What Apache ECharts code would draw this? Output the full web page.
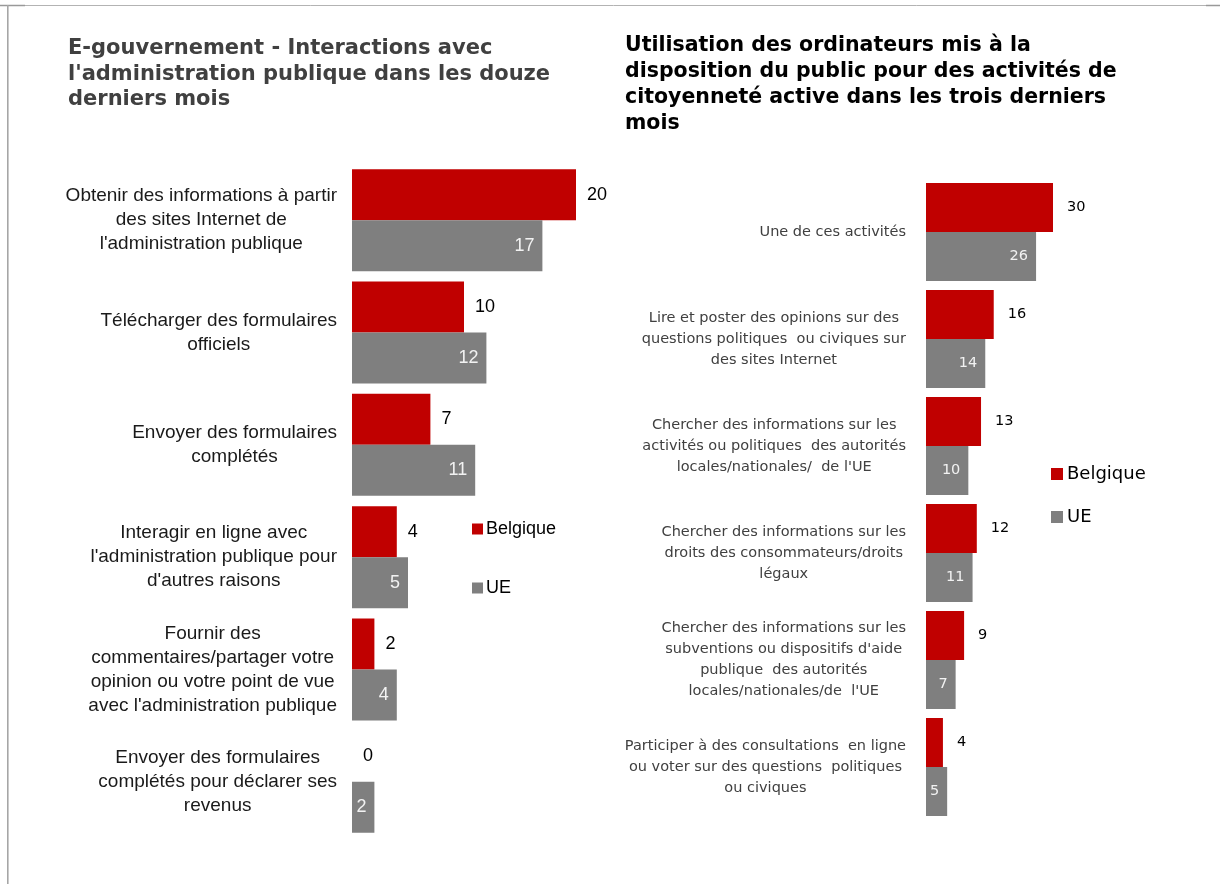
<!DOCTYPE html>
<html>
<head>
<meta charset="utf-8">
<script src="https://cdn.jsdelivr.net/npm/echarts@6/dist/echarts.min.js"></script>
<style>
  html, body { margin: 0; padding: 0; background: #ffffff; }
  #chart { width: 1220px; height: 884px; }
</style>
</head>
<body>
<div id="chart"></div>
<script>
// Left panel: e-government interactions (last twelve months)
const leftTitle = "E-gouvernement - Interactions avec\nl'administration publique dans les douze\nderniers mois";
const leftCategories = [
  "Obtenir des informations à partir\ndes sites Internet de\nl'administration publique",
  "Télécharger des formulaires\nofficiels",
  "Envoyer des formulaires\ncomplétés",
  "Interagir en ligne avec\nl'administration publique pour\nd'autres raisons",
  "Fournir des\ncommentaires/partager votre\nopinion ou votre point de vue\navec l'administration publique",
  "Envoyer des formulaires\ncomplétés pour déclarer ses\nrevenus"
];
const leftBelgique = [20, 10, 7, 4, 2, 0];
const leftUE = [17, 12, 11, 5, 4, 2];

// Right panel: public computers used for active citizenship (last three months)
const rightTitle = "Utilisation des ordinateurs mis à la\ndisposition du public pour des activités de\ncitoyenneté active dans les trois derniers\nmois";
const rightCategories = [
  "Une de ces activités",
  "Lire et poster des opinions sur des\nquestions politiques  ou civiques sur\ndes sites Internet",
  "Chercher des informations sur les\nactivités ou politiques  des autorités\nlocales/nationales/  de l'UE",
  "Chercher des informations sur les\ndroits des consommateurs/droits\nlégaux",
  "Chercher des informations sur les\nsubventions ou dispositifs d'aide\npublique  des autorités\nlocales/nationales/de  l'UE",
  "Participer à des consultations  en ligne\nou voter sur des questions  politiques\nou civiques"
];
const rightBelgique = [30, 16, 13, 12, 9, 4];
const rightUE = [26, 14, 10, 11, 7, 5];

const seriesNames = ["Belgique", "UE"];
const RED = "#C00000";
const GREY = "#7F7F7F";

const chart = echarts.init(document.getElementById("chart"), null, { renderer: "canvas" });

function categoryAxis(gridIndex, categories, font, size, lineHeight, color, margin) {
  return {
    type: "category",
    gridIndex: gridIndex,
    data: categories,
    inverse: true,
    axisLine: { show: false },
    axisTick: { show: false },
    splitLine: { show: false },
    axisLabel: {
      interval: 0,
      margin: margin,
      align: "right",
      formatter: function (v) { return "{c|" + v + "}"; },
      rich: {
        c: { align: "center", fontFamily: font, fontSize: size, lineHeight: lineHeight, color: color }
      }
    }
  };
}

function valueAxis(gridIndex, max) {
  return {
    type: "value",
    gridIndex: gridIndex,
    min: 0,
    max: max,
    show: false
  };
}

const option = {
  animation: false,
  backgroundColor: "#ffffff",
  title: [
    {
      text: leftTitle,
      left: 68, top: 36, padding: 0,
      textStyle: { fontFamily: "DejaVu Sans", fontWeight: "bold", fontSize: 21, lineHeight: 25.5, color: "#404040" }
    },
    {
      text: rightTitle,
      left: 625, top: 33, padding: 0,
      textStyle: { fontFamily: "DejaVu Sans", fontWeight: "bold", fontSize: 20.5, lineHeight: 26, color: "#000000" }
    }
  ],
  legend: [
    {
      data: seriesNames,
      orient: "vertical",
      left: 472, top: 520,
      itemWidth: 11, itemHeight: 11, itemGap: 41,
      icon: "rect",
      selectedMode: false,
      padding: 0,
      textStyle: { fontFamily: "Liberation Sans", fontSize: 18, lineHeight: 18, color: "#000000", padding: [0, 0, 0, -2] }
    },
    {
      data: seriesNames,
      orient: "vertical",
      left: 1051, top: 465,
      itemWidth: 12, itemHeight: 12, itemGap: 25,
      icon: "rect",
      selectedMode: false,
      padding: 0,
      textStyle: { fontFamily: "DejaVu Sans", fontSize: 18, lineHeight: 18, color: "#000000", padding: [0, 0, 0, -1] }
    }
  ],
  grid: [
    { left: 352, top: 164, width: 224, height: 674 },
    { left: 926, top: 178.5, width: 127, height: 642 }
  ],
  xAxis: [valueAxis(0, 20), valueAxis(1, 30)],
  yAxis: [
    categoryAxis(0, leftCategories, "Liberation Sans", 19, 24, "#1a1a1a", 15),
    categoryAxis(1, rightCategories, "DejaVu Sans", 14.5, 21, "#404040", 20)
  ],
  series: [
    {
      name: "Belgique", type: "bar", xAxisIndex: 0, yAxisIndex: 0,
      data: leftBelgique, barWidth: 51, barGap: "0%",
      itemStyle: { color: RED },
      label: { show: true, position: "right", distance: 11, color: "#000000", fontFamily: "Liberation Sans", fontSize: 18 }
    },
    {
      name: "UE", type: "bar", xAxisIndex: 0, yAxisIndex: 0,
      data: leftUE, barWidth: 51, barGap: "0%",
      itemStyle: { color: GREY },
      label: { show: true, position: "insideRight", distance: 8, color: "#f2f2f2", fontFamily: "Liberation Sans", fontSize: 18 }
    },
    {
      name: "Belgique", type: "bar", xAxisIndex: 1, yAxisIndex: 1,
      data: rightBelgique, barWidth: 49, barGap: "0%",
      itemStyle: { color: RED },
      label: { show: true, position: "right", distance: 14, color: "#000000", fontFamily: "DejaVu Sans", fontSize: 14.5 }
    },
    {
      name: "UE", type: "bar", xAxisIndex: 1, yAxisIndex: 1,
      data: rightUE, barWidth: 49, barGap: "0%",
      itemStyle: { color: GREY },
      label: { show: true, position: "insideRight", distance: 8, color: "#f2f2f2", fontFamily: "DejaVu Sans", fontSize: 14.5 }
    }
  ],
  graphic: [
    // page frame: top rule and left rule
    { type: "line", silent: true, shape: { x1: 7, y1: 5.5, x2: 1220, y2: 5.5 }, style: { stroke: "#b3b3b3", lineWidth: 1 } },
    { type: "line", silent: true, shape: { x1: 0, y1: 5.5, x2: 25, y2: 5.5 }, style: { stroke: "#999999", lineWidth: 1.5 } },
    { type: "line", silent: true, shape: { x1: 1206, y1: 5.5, x2: 1220, y2: 5.5 }, style: { stroke: "#999999", lineWidth: 1.5 } },
    { type: "line", silent: true, shape: { x1: 7.8, y1: 5, x2: 7.8, y2: 884 }, style: { stroke: "#a6a6a6", lineWidth: 1.6 } }
  ]
};

chart.setOption(option);
</script>
</body>
</html>
